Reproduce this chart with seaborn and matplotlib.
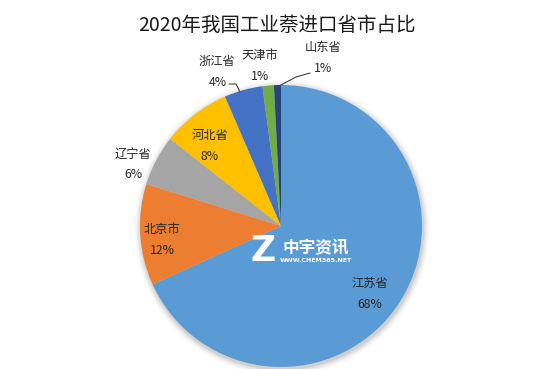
import matplotlib
matplotlib.use("Agg")
import matplotlib.pyplot as plt
import seaborn as sns
import numpy as np
from matplotlib.patches import Circle

sns.set_theme(style="white")
plt.rcParams['font.family'] = ['Noto Sans CJK SC', 'DejaVu Sans']

title = "2020年我国工业萘进口省市占比"
provinces = ["江苏省", "北京市", "辽宁省", "河北省", "浙江省", "天津市", "山东省"]
shares = [68.2, 11.6, 5.8, 7.9, 4.4, 1.3, 0.8]
pct_labels = ["68%", "12%", "6%", "8%", "4%", "1%", "1%"]
colors = ["#5B9BD5", "#ED7D31", "#A5A5A5", "#FFC000", "#4472C4", "#70AD47", "#264478"]

W, H = 554, 369
fig = plt.figure(figsize=(W / 100, H / 100), dpi=100)
ax = fig.add_axes([0, 0, 1, 1])

cx, cy, R = 281, H - 226, 141

# soft shadow
for i, a in enumerate(np.linspace(0.05, 0.01, 6)):
    ax.add_patch(Circle((cx + 1, cy - 2), R + 1 + i * 1.2, color="#000000", alpha=a, lw=0, zorder=0))

wedges, _ = ax.pie(shares, colors=colors, startangle=90, counterclock=False,
                   center=(cx, cy), radius=R, frame=True,
                   wedgeprops=dict(linewidth=0))
ax.set_xlim(0, W)
ax.set_ylim(0, H)
ax.axis("off")

# label positions (pixel coords, y from top)
name_pos = [(370, 283), (162, 230), (133, 154), (210, 135), (217, 61), (260, 55), (323, 47)]
pct_pos = [(370, 304), (162, 250), (133, 175), (210, 156), (218, 82), (260, 76), (323, 69)]
for n, p, (nx, ny), (px, py) in zip(provinces, pct_labels, name_pos, pct_pos):
    ax.text(nx, H - ny, n, ha="center", va="center", fontsize=8.8, color="#262626")
    ax.text(px, H - py, p, ha="center", va="center", fontsize=8.8, color="#262626")

# leader lines
ax.plot([229, 236, 240], [H - 84, H - 84, H - 92], color="#404040", lw=0.8)
ax.plot([310, 296, 279], [H - 73, H - 77, H - 86], color="#404040", lw=0.8)

# watermark
ax.text(263, H - 251, "Z", ha="center", va="center", fontsize=25, fontweight="bold",
        color="white", family=["DejaVu Sans"])
ax.text(316, H - 248, "中宇资讯", ha="center", va="center", fontsize=12, fontweight="bold",
        color="white")
ax.text(316, H - 260, "WWW.CHEM365.NET", ha="center", va="center", fontsize=4.5,
        fontweight="bold", color="white", family=["DejaVu Sans"])

ax.text(W / 2, H - 25, title, ha="center", va="center", fontsize=14, color="#1a1a1a")

fig.savefig("out.png", dpi=100, facecolor="white")
